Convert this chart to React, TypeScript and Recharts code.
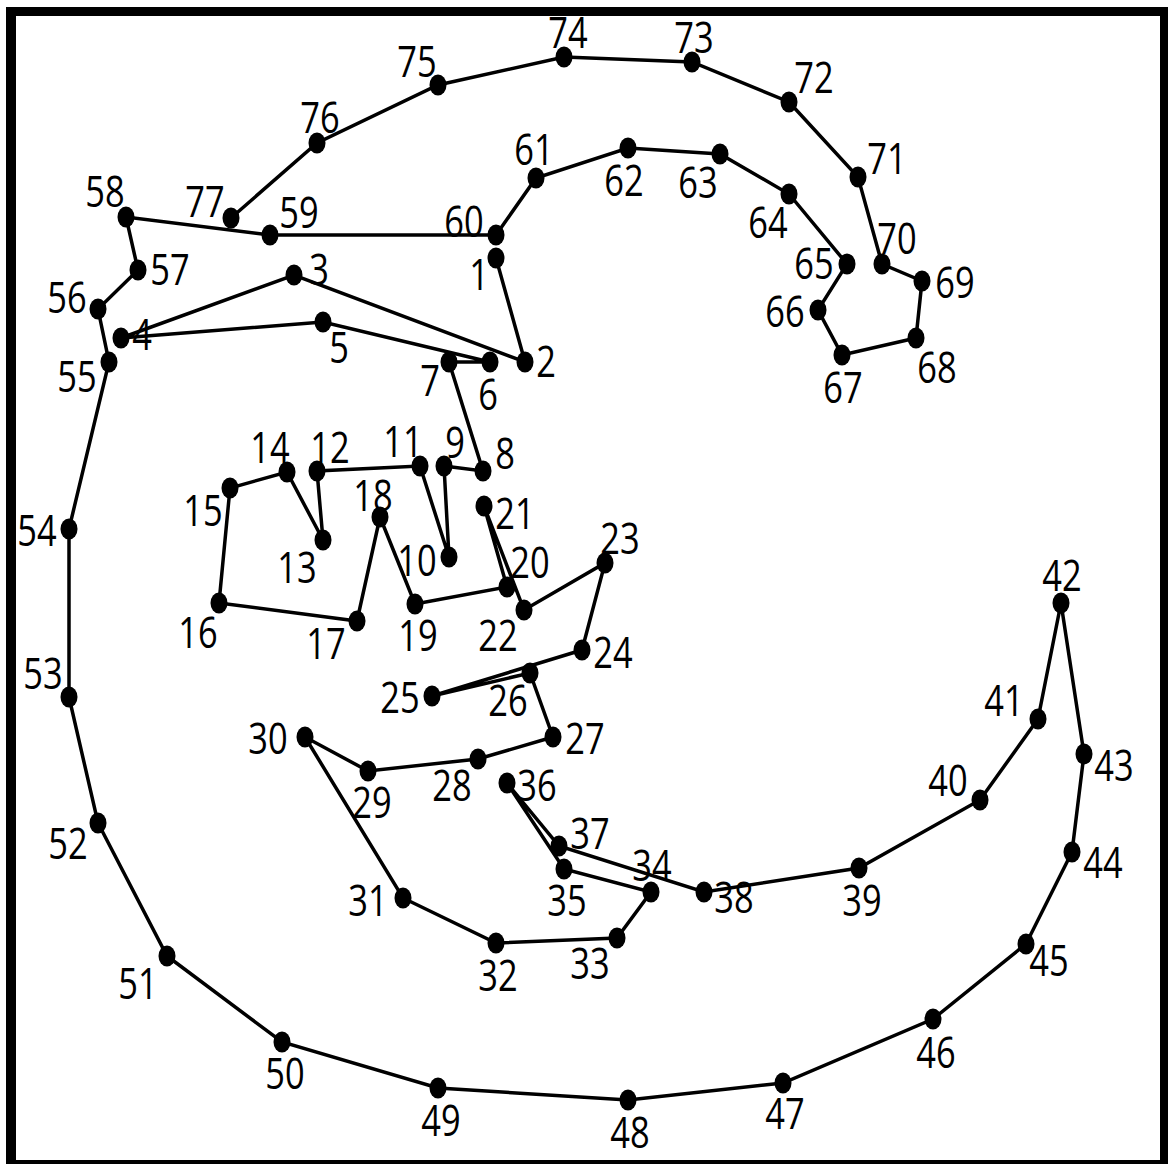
import { Scatter, ScatterChart, XAxis, YAxis } from "recharts";

// dot positions, numbered 1..77 in drawing order
const dotX = [
  496, 525, 294, 121, 323, 490, 449, 483, 444, 449, 420, 317, 323, 287, 230, 219, 357, 380, 415, 507,
  484, 524, 605, 582, 432, 530, 553, 478, 368, 305, 403, 496, 617, 651, 564, 507, 559, 704, 859, 980,
  1038, 1061, 1084, 1072, 1026, 933, 783, 628, 438, 282, 167, 98, 69, 69, 109, 98, 138, 126, 270, 496,
  536, 628, 720, 789, 847, 818, 842, 916, 922, 882, 858, 789, 692, 564, 438, 317, 231,
];
const dotY = [
  258, 362, 275, 338, 322, 362, 362, 471, 466, 557, 466, 471, 540, 472, 488, 603, 621, 517, 604, 587,
  506, 610, 563, 650, 696, 673, 737, 759, 771, 737, 898, 943, 938, 892, 869, 783, 846, 892, 868, 800,
  719, 603, 754, 852, 944, 1019, 1083, 1100, 1088, 1042, 956, 823, 697, 529, 362, 309, 270, 217, 235, 235,
  178, 148, 154, 194, 264, 310, 355, 338, 281, 264, 177, 102, 62, 57, 85, 143, 218,
];

// where each number sits relative to its dot
const labelOffset: [number, number][] = [
  [-17, 16], [21, -1], [25, -6], [21, -4], [16, 25], [-2, 32], [-19, 18], [22, -18], [11, -24], [-32, 3],
  [-17, -25], [13, -24], [-26, 27], [-17, -25], [-27, 22], [-21, 29], [-31, 22], [-7, -22], [3, 31], [23, -25],
  [31, 7], [-26, 25], [15, -25], [31, 2], [-32, 1], [-22, 27], [32, 1], [-26, 26], [4, 31], [-37, 1],
  [-35, 2], [2, 32], [-27, 25], [1, -27], [3, 31], [30, 2], [31, -13], [30, 5], [3, 32], [-32, -20],
  [-34, -19], [1, -28], [30, 11], [31, 10], [23, 16], [3, 33], [2, 30], [2, 32], [3, 32], [3, 31],
  [-29, 27], [-30, 20], [-26, -24], [-32, 1], [-32, 14], [-31, -12], [32, -1], [-21, -26], [29, -23], [-32, -14],
  [-2, -29], [-4, 32], [-22, 28], [-21, 28], [-33, -1], [-33, 1], [1, 32], [21, 29], [33, 1], [15, -26],
  [29, -19], [25, -25], [2, -25], [4, -25], [-21, -24], [3, -26], [-26, -17],
];

const W = 1168;
const H = 1164;

const points = dotX.map((x, i) => ({
  x,
  y: dotY[i],
  n: i + 1,
  dx: labelOffset[i][0],
  dy: labelOffset[i][1],
}));

function Dot(props: any) {
  const { cx, cy, payload } = props;
  const tx = cx + payload.dx;
  const ty = cy + payload.dy + 15.5;
  return (
    <g>
      <ellipse cx={cx} cy={cy} rx={8.5} ry={10.5} fill="#000" />
      <text
        transform={`translate(${tx},${ty}) scale(0.8,1)`}
        textAnchor="middle"
        fontSize={43}
        fontFamily="'Open Sans', 'Noto Sans', sans-serif"
        fill="#000"
      >
        {payload.n}
      </text>
    </g>
  );
}

export default function App() {
  return (
    <div style={{ position: "absolute", left: 0, top: 0, width: W, height: H, background: "#fff" }}>
      <ScatterChart width={W} height={H} margin={{ top: 0, right: 0, bottom: 0, left: 0 }}>
        <XAxis type="number" dataKey="x" domain={[0, W]} hide />
        <YAxis type="number" dataKey="y" domain={[0, H]} reversed hide />
        <Scatter
          data={points}
          line={{ stroke: "#000", strokeWidth: 3.5 }}
          lineType="joint"
          shape={Dot}
          isAnimationActive={false}
        />
      </ScatterChart>
      <div
        style={{
          position: "absolute",
          left: 6,
          top: 7,
          width: W - 6,
          height: H - 7,
          boxSizing: "border-box",
          borderStyle: "solid",
          borderColor: "#000",
          borderWidth: "9px 8px 4px 10px",
          pointerEvents: "none",
        }}
      />
    </div>
  );
}
